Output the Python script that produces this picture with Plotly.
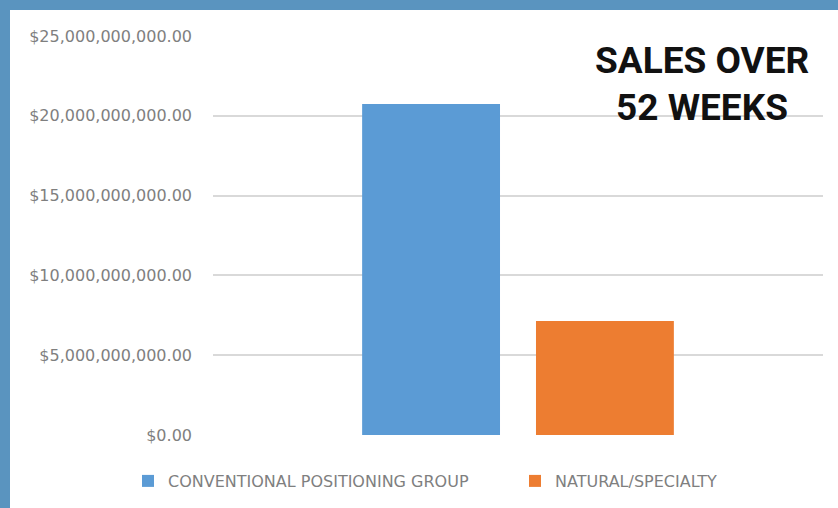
import plotly.graph_objects as go

category = [""]
series_names = ["CONVENTIONAL POSITIONING GROUP", "NATURAL/SPECIALTY"]
conventional_sales = [20.74e9]
natural_sales = [7.14e9]
y_ticks = [0, 5e9, 10e9, 15e9, 20e9, 25e9]
title_lines = ["SALES OVER", "52 WEEKS"]

fig = go.Figure()
fig.add_trace(go.Bar(x=category, y=conventional_sales, name=series_names[0],
                     marker=dict(color="#5b9bd5", line=dict(width=0))))
fig.add_trace(go.Bar(x=category, y=natural_sales, name=series_names[1],
                     marker=dict(color="#ed7d31", line=dict(width=0))))

W, H = 838, 508
L, R, T, B = 213, 15, 36, 73
pw, ph = W - L - R, H - T - B

def px2x(p):
    return (p - L) / pw

def px2y(p):
    return (H - B - p) / ph

fig.update_layout(
    width=W, height=H,
    margin=dict(l=L, r=R, t=T, b=B, autoexpand=False),
    paper_bgcolor="white", plot_bgcolor="white",
    barmode="group", bargap=0.43, bargroupgap=0.207,
    showlegend=True,
    legend=dict(orientation="h", x=px2x(128), xanchor="left", y=px2y(481), yanchor="middle",
                entrywidth=342, entrywidthmode="pixels",
                font=dict(family="DejaVu Sans", size=16, color="#7f7f7f"),
                bgcolor="rgba(0,0,0,0)", traceorder="normal"),
    xaxis=dict(showticklabels=False, showgrid=False, zeroline=False, showline=False, ticks=""),
    yaxis=dict(range=[0, 25e9], tickvals=y_ticks, tickformat="$,.2f",
               showgrid=True, gridcolor="#d9d9d9", gridwidth=1.5,
               zeroline=False, showline=False, ticks="",
               ticklabelstandoff=20,
               tickfont=dict(family="DejaVu Sans", size=16, color="#7f7f7f")),
    font=dict(family="DejaVu Sans"),
)

for line, yc in zip(title_lines, [60, 107]):
    fig.add_annotation(text=line, xref="paper", yref="paper",
                       x=px2x(702), y=px2y(yc), xanchor="center", yanchor="middle",
                       showarrow=False, align="center",
                       font=dict(family="Roboto", size=37, color="#111111", weight="bold"))

# frame borders (top and left)
fig.add_shape(type="rect", xref="paper", yref="paper", x0=px2x(0), x1=px2x(W), y0=px2y(10), y1=px2y(0),
              fillcolor="#5a94bf", line=dict(width=0), layer="above")
fig.add_shape(type="rect", xref="paper", yref="paper", x0=px2x(0), x1=px2x(10), y0=px2y(H), y1=px2y(0),
              fillcolor="#5a94bf", line=dict(width=0), layer="above")

fig.write_html("out.html", config={"displayModeBar": False},
               post_script="document.body.style.margin='0';document.body.style.overflow='hidden';")
